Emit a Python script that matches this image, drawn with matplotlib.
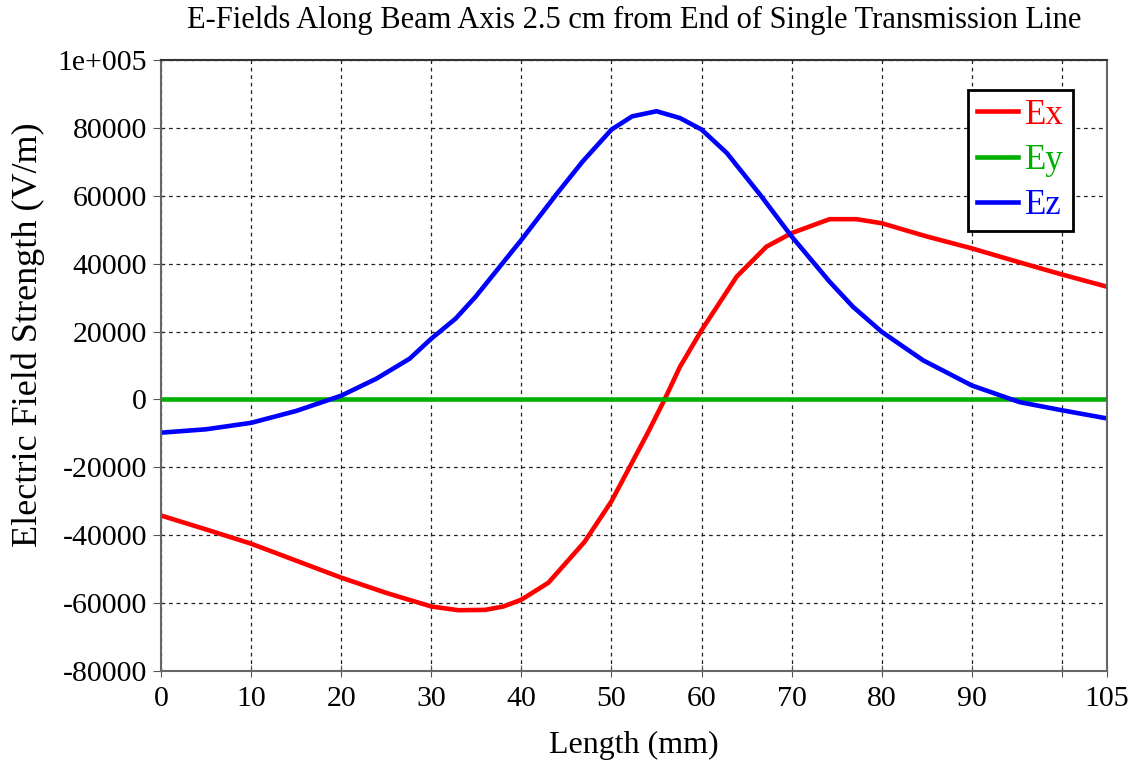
import matplotlib

matplotlib.use("Agg")
import matplotlib.pyplot as plt

# Field values (x in mm, E in V/m)
ex_x = [0, 5, 10, 15, 20, 25, 30, 33, 36, 38, 40, 43, 45, 47, 50, 52, 54,
        55.9, 57.6, 60, 63.9, 67.2, 70, 74.2, 77.2, 80, 85, 90, 95, 100, 105]
ex_y = [-34200, -38300, -42500, -47500, -52500, -57000, -61000, -62100, -62000,
        -61000, -59000, -54000, -48000, -42000, -30000, -20000, -10000, 0,
        9600, 20400, 36200, 45000, 49000, 53100, 53100, 51900, 48000, 44500,
        40600, 36800, 33200]

ey_x = [0, 105]
ey_y = [0, 0]

ez_x = [0, 5, 10, 15, 20, 23.9, 27.6, 30, 32.7, 34.9, 37.6, 40, 42, 44, 46.8,
        50, 52.3, 55, 57.6, 60, 62.8, 66.5, 70, 74.2, 76.8, 80, 84.6, 90, 95.3,
        100, 105]
ez_y = [-9800, -8800, -6900, -3400, 1100, 6100, 12000, 17900, 23800, 30200,
        39100, 47000, 53900, 60800, 70100, 79500, 83400, 84900, 82900, 79500,
        72600, 60300, 48000, 34700, 27300, 19900, 11500, 4100, -800, -3200,
        -5600]

x_ticks = [0, 10, 20, 30, 40, 50, 60, 70, 80, 90, 100, 105]
x_labels = ["0", "10", "20", "30", "40", "50", "60", "70", "80", "90", "", "105"]
y_ticks = [-80000, -60000, -40000, -20000, 0, 20000, 40000, 60000, 80000, 100000]
y_labels = ["-80000", "-60000", "-40000", "-20000", "0", "20000", "40000",
            "60000", "80000", "1e+005"]

plt.rcParams["font.family"] = ["Liberation Serif", "DejaVu Serif"]

fig = plt.figure(figsize=(11.36, 7.67), dpi=100)
ax = fig.add_axes([0.1417, 0.1252, 0.8328, 0.7966])

ax.plot(ex_x, ex_y, color="#ff0000", lw=3.3, label="Ex")
ax.plot(ey_x, ey_y, color="#00b000", lw=3.3, label="Ey")
ax.plot(ez_x, ez_y, color="#0000ff", lw=3.3, label="Ez")

ax.set_xlim(0, 105)
ax.set_ylim(-80000, 100000)
ax.set_xticks(x_ticks)
ax.set_xticklabels(x_labels)
ax.set_yticks(y_ticks)
ax.set_yticklabels(y_labels)
ax.grid(True, color="#222222", linestyle=(0, (3, 3)), linewidth=0.9)
ax.set_axisbelow(True)

for sp in ax.spines.values():
    sp.set_color("#666666")
    sp.set_linewidth(1.5)
ax.spines["top"].set_color("#333333")

ax.tick_params(axis="x", direction="inout", length=9, color="#555555",
               labelsize=21.5, pad=6)
ax.tick_params(axis="y", direction="out", length=6, color="#555555",
               labelsize=21.5, pad=4)

ax.set_xlabel("Length (mm)", fontsize=23, labelpad=14)
ax.set_ylabel("Electric Field Strength (V/m)", fontsize=26)
ax.yaxis.set_label_coords(-0.1226, 0.55)
ax.set_title("E-Fields Along Beam Axis 2.5 cm from End of Single Transmission Line",
             fontsize=22, pad=23, x=0.5)

leg = ax.legend(loc="upper left", bbox_to_anchor=(0.853, 0.951),
                borderaxespad=0, fontsize=25, handlelength=1.2,
                handletextpad=0.2, labelspacing=0.35, fancybox=False,
                framealpha=1, edgecolor="black", borderpad=0.25)
leg.get_frame().set_linewidth(2)
for txt, ln in zip(leg.get_texts(), leg.get_lines()):
    txt.set_color(ln.get_color())

fig.savefig("out.png", dpi=100)
